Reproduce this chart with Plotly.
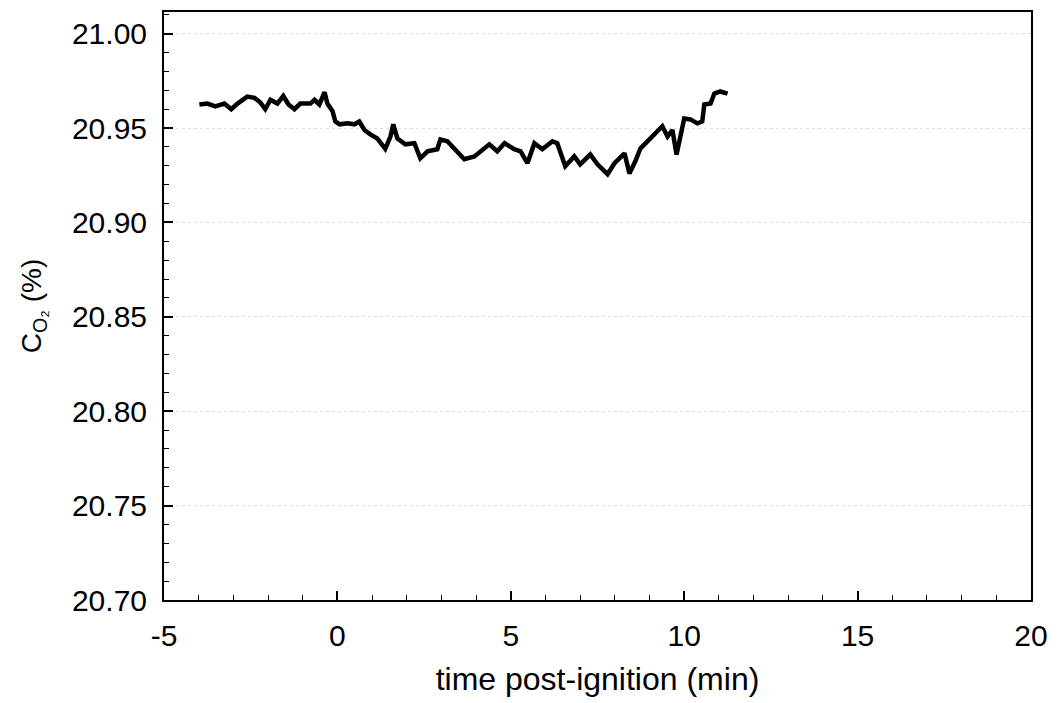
import plotly.graph_objects as go

time_min = [-3.98, -3.75, -3.52, -3.26, -3.06, -2.88, -2.6, -2.39, -2.22, -2.08, -1.93, -1.73,
            -1.56, -1.41, -1.24, -1.07, -0.78, -0.66, -0.52, -0.37, -0.29, -0.14, -0.06, 0.06,
            0.29, 0.49, 0.63, 0.78, 0.95, 1.15, 1.38, 1.53, 1.61, 1.73, 1.96, 2.22, 2.39, 2.6,
            2.88, 2.97, 3.17, 3.37, 3.66, 3.95, 4.12, 4.38, 4.61, 4.82, 5.1, 5.28, 5.48, 5.68,
            5.91, 6.2, 6.34, 6.57, 6.83, 7.0, 7.29, 7.5, 7.79, 7.99, 8.28, 8.42, 8.59, 8.74,
            8.94, 9.23, 9.37, 9.52, 9.66, 9.78, 9.89, 10.0, 10.18, 10.38, 10.52, 10.58, 10.76,
            10.87, 11.04, 11.25]
c_o2 = [20.9625, 20.963, 20.9615, 20.963, 20.960, 20.963, 20.9667, 20.966, 20.9635, 20.960,
        20.965, 20.963, 20.967, 20.9625, 20.960, 20.963, 20.963, 20.965, 20.9625, 20.969,
        20.963, 20.959, 20.9535, 20.952, 20.9525, 20.952, 20.9535, 20.949, 20.9467, 20.9445,
        20.939, 20.9455, 20.952, 20.9445, 20.9414, 20.942, 20.934, 20.9377, 20.9388, 20.944,
        20.943, 20.9388, 20.9335, 20.935, 20.9377, 20.9414, 20.9377, 20.942, 20.9388, 20.9377,
        20.9314, 20.942, 20.9388, 20.943, 20.942, 20.9298, 20.935, 20.9308, 20.936, 20.9308,
        20.9256, 20.9314, 20.9366, 20.926, 20.9324, 20.9393, 20.943, 20.9483, 20.951, 20.9455,
        20.949, 20.936, 20.9455, 20.9551, 20.9546, 20.9525, 20.9535, 20.9625, 20.963, 20.9683,
        20.9694, 20.9683]

x_ticks = [-5, 0, 5, 10, 15, 20]
y_ticks = [20.70, 20.75, 20.80, 20.85, 20.90, 20.95, 21.00]
y_tick_text = ["20.70", "20.75", "20.80", "20.85", "20.90", "20.95", "21.00"]

FONT = "Liberation Sans, Arial, Helvetica, sans-serif"

fig = go.Figure()
fig.add_trace(go.Scatter(x=time_min, y=c_o2, mode="lines",
                         line=dict(color="black", width=4.5), showlegend=False))

fig.update_layout(
    width=1058, height=703,
    margin=dict(l=164, r=24, t=10, b=103),
    paper_bgcolor="white", plot_bgcolor="white",
    font=dict(family=FONT, color="black", size=30),
)
fig.update_xaxes(
    range=[-5, 20], tickvals=x_ticks, ticktext=[str(v) for v in x_ticks],
    ticks="inside", ticklen=9, tickwidth=1.5, tickcolor="black",
    minor=dict(dtick=1, ticks="inside", ticklen=5, tickwidth=1.2, tickcolor="black", showgrid=False),
    showline=True, linecolor="black", linewidth=2, mirror=True,
    showgrid=False, zeroline=False,
    ticklabelstandoff=8,
    tickfont=dict(size=30, family=FONT),
    title=dict(text="time post-ignition (min)", font=dict(size=32, family=FONT), standoff=17),
)
fig.update_yaxes(
    range=[20.70, 21.0115], tickvals=y_ticks, ticktext=y_tick_text,
    ticks="inside", ticklen=9, tickwidth=1.5, tickcolor="black",
    minor=dict(dtick=0.01, tick0=20.70, ticks="inside", ticklen=5, tickwidth=1.2, tickcolor="black", showgrid=False),
    showline=True, linecolor="black", linewidth=2, mirror=True,
    showgrid=True, gridcolor="#dddddd", griddash="dot", gridwidth=1,
    zeroline=False,
    ticklabelstandoff=9,
    tickfont=dict(size=30, family=FONT),
    title=dict(text="C<sub>O₂</sub> (%)", font=dict(size=28, family=FONT), standoff=22),
)

fig.write_html("out.html")
